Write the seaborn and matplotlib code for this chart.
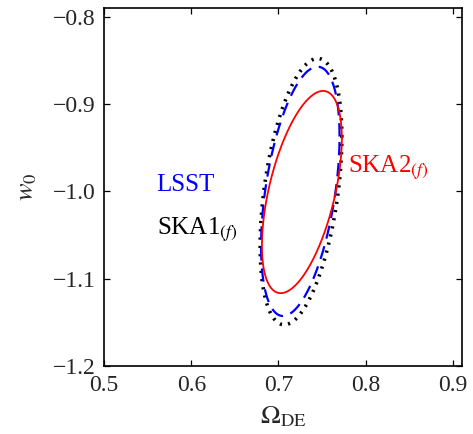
import numpy as np
import pandas as pd
import matplotlib
matplotlib.use("Agg")
import matplotlib.pyplot as plt
import seaborn as sns

# Fisher-ellipse parameters (center, 1-sigma-contour half extents, correlation)
surveys = ["SKA1$_{(f)}$", "LSST", "SKA2$_{(f)}$"]
center_x = [0.7258, 0.7250, 0.7268]
center_y = [-1.0003, -1.0000, -1.0008]
half_x = [0.0468, 0.0450, 0.0458]
half_y = [0.1527, 0.1430, 0.1160]
rho = [0.41, 0.44, 0.53]
colors = ["black", "blue", "red"]

xticks = [0.5, 0.6, 0.7, 0.8, 0.9]
yticks = [-1.2, -1.1, -1.0, -0.9, -0.8]

sns.set_style("ticks")
plt.rcParams["font.family"] = ["Liberation Serif", "DejaVu Serif"]
plt.rcParams["mathtext.fontset"] = "stix"
plt.rcParams["xtick.direction"] = "in"
plt.rcParams["ytick.direction"] = "in"

fig = plt.figure(figsize=(4.73, 4.34), dpi=100)
ax = fig.add_axes([0.2199, 0.1574, 0.7562, 0.8235])

t = np.linspace(0, 2 * np.pi, 400)
styles = [dict(linestyle=(0, (0.6, 1.7)), linewidth=2.6),
          dict(linestyle=(0, (6, 3.5)), linewidth=1.6),
          dict(linestyle="-", linewidth=1.3)]
for i, name in enumerate(surveys):
    ex = center_x[i] + half_x[i] * np.cos(t)
    ey = center_y[i] + half_y[i] * (rho[i] * np.cos(t) + np.sqrt(1 - rho[i] ** 2) * np.sin(t))
    df = pd.DataFrame({"x": ex, "y": ey})
    sns.lineplot(data=df, x="x", y="y", sort=False, estimator=None, color=colors[i],
                 ax=ax, **styles[i])

ax.text(0.5604, -1.0, "LSST", color="blue", fontsize=18)
ax.text(0.5604, -1.05, "SKA1$_{(f)}$", color="black", fontsize=18)
ax.text(0.7802, -0.979, "SKA2$_{(f)}$", color="red", fontsize=18)

ax.set_xlim(0.5, 0.91)
ax.set_ylim(-1.2, -0.79)
ax.set_xticks(xticks)
ax.set_yticks(yticks)
ax.set_xticklabels([f"{v:.1f}" for v in xticks])
ax.set_yticklabels([f"\u2212{abs(v):.1f}" for v in yticks])
ax.tick_params(axis="both", which="major", labelsize=17, length=4.5, width=0.9,
               top=True, right=True, color="black")
ax.tick_params(axis="x", pad=7)
ax.tick_params(axis="y", pad=6)
for s in ax.spines.values():
    s.set_linewidth(1.2)
    s.set_color("black")

ax.set_xlabel(r"$\Omega_{\rm DE}$", fontsize=19, labelpad=6)
ax.set_ylabel(r"$w_0$", fontsize=19, labelpad=10)

fig.savefig("out.png", dpi=100)
